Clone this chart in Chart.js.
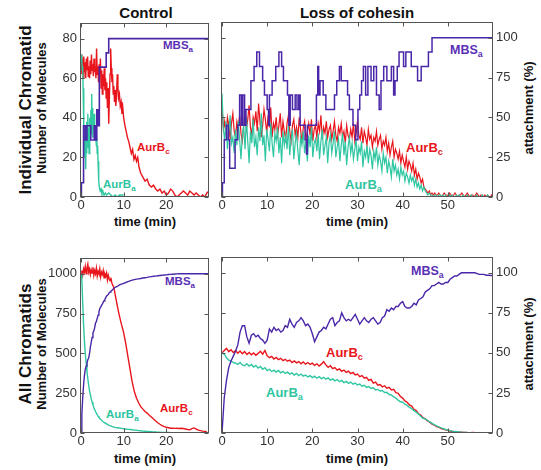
<!DOCTYPE html>
<html>
<head>
<meta charset="utf-8">
<script src="https://cdn.jsdelivr.net/npm/chart.js@4.4.1/dist/chart.umd.min.js"></script>
<style>
  body { margin: 0; width: 541px; height: 470px; position: relative; overflow: hidden; background: #fff;
         font-family: "Liberation Sans", Arial, sans-serif; }
  canvas { position: absolute; }
  .t { position: absolute; white-space: nowrap; font-weight: bold; line-height: 1; color: #111; }
  .c { transform: translate(-50%, -50%); }
  .r { transform: translate(-50%, -50%) rotate(-90deg); }
  .lab { position: absolute; white-space: nowrap; font-weight: bold; line-height: 1; }
  .lab sub { font-size: 70%; vertical-align: -3px; line-height: 0; }
</style>
</head>
<body>
<div class="t c" style="left:146px;top:12px;font-size:15px">Control</div>
<div class="t c" style="left:357px;top:12px;font-size:15px">Loss of cohesin</div>
<div class="t r" style="left:25px;top:110px;font-size:17px">Individual Chromatid</div>
<div class="t r" style="left:41px;top:108px;font-size:13px">Number of Molecules</div>
<div class="t r" style="left:25px;top:344px;font-size:17px">All Chromatids</div>
<div class="t r" style="left:41px;top:344px;font-size:13px">Number of Molecules</div>
<div class="t r" style="left:528px;top:108px;font-size:13px">attachment (%)</div>
<div class="t r" style="left:528px;top:344px;font-size:13px">attachment (%)</div>
<div class="t c" style="left:145px;top:221px;font-size:13px">time (min)</div>
<div class="t c" style="left:357px;top:221px;font-size:13px">time (min)</div>
<div class="t c" style="left:145px;top:458px;font-size:13px">time (min)</div>
<div class="t c" style="left:357px;top:458px;font-size:13px">time (min)</div>

<div class="lab" style="left:163px;top:40px;font-size:11.5px;color:#5a30b4">MBS<sub>a</sub></div>
<div class="lab" style="left:137px;top:142px;font-size:11.5px;color:#e8161c">AurB<sub>c</sub></div>
<div class="lab" style="left:103px;top:179px;font-size:11.5px;color:#2fc4a0">AurB<sub>a</sub></div>
<div class="lab" style="left:450px;top:44px;font-size:12.5px;color:#5a30b4">MBS<sub>a</sub></div>
<div class="lab" style="left:406px;top:141px;font-size:13px;color:#e8161c">AurB<sub>c</sub></div>
<div class="lab" style="left:345px;top:178px;font-size:13px;color:#2fc4a0">AurB<sub>a</sub></div>
<div class="lab" style="left:165px;top:276px;font-size:11.5px;color:#5a30b4">MBS<sub>a</sub></div>
<div class="lab" style="left:106px;top:409px;font-size:11.5px;color:#2fc4a0">AurB<sub>a</sub></div>
<div class="lab" style="left:160px;top:403px;font-size:11.5px;color:#e8161c">AurB<sub>c</sub></div>
<div class="lab" style="left:411px;top:265px;font-size:12.5px;color:#5a30b4">MBS<sub>a</sub></div>
<div class="lab" style="left:326px;top:346px;font-size:13px;color:#e8161c">AurB<sub>c</sub></div>
<div class="lab" style="left:266px;top:386px;font-size:13px;color:#2fc4a0">AurB<sub>a</sub></div>

<script>
// ticks
const ctrlTicksX = [0, 10, 20];
const lossTicksX = [0, 10, 20, 30, 40, 50];
const indTicksY = [0, 20, 40, 60, 80];
const allTicksY = [0, 250, 500, 750, 1000];
const pctTicks = [0, 25, 50, 75, 100];

// Control, individual chromatid: [time, value]
const ctrlIndMBSa = [[0,0],[0.1,9],[0.6,45],[1.0,36],[1.4,45],[2.3,36],[3.1,45],[3.4,36],[3.7,55],[4.0,45],[4.3,82],[5.9,91],[6.5,100],[30,100]];
const ctrlIndAurBc = [[0,72],[0.2,62],[0.35,70],[0.5,60],[0.65,71],[0.8,63],[0.95,68],[1.1,60],[1.25,70],[1.4,64],[1.55,71],[1.7,61],[1.85,66],[2.0,60],[2.15,69],[2.3,62],[2.45,72],[2.6,64],[2.75,67],[2.9,61],[3.05,70],[3.2,63],[3.35,66],[3.5,60],[3.65,75],[3.8,62],[3.95,66],[4.1,58],[4.25,67],[4.4,62],[4.55,70],[4.7,55],[4.85,64],[5.0,52],[5.15,62],[5.3,56],[5.45,65],[5.6,54],[5.75,60],[5.9,50],[6.05,58],[6.2,45],[6.35,55],[6.5,37],[6.65,50],[6.8,62],[6.95,75],[7.1,65],[7.25,58],[7.4,62],[7.55,52],[7.7,56],[7.85,48],[8.0,54],[8.15,46],[8.3,50],[8.5,62],[8.65,56],[8.8,50],[9.0,52],[9.2,46],[9.4,48],[9.6,42],[9.8,45],[10.0,40],[10.3,36],[10.6,33],[10.9,30],[11.2,28],[11.5,25],[11.8,22],[12.1,24],[12.4,19],[12.7,21],[13.0,18],[13.3,20],[13.6,15],[14.0,12],[14.5,10],[15.0,8],[15.5,9],[16.0,6],[16.5,5],[17.0,6],[17.5,4],[18.0,3],[18.5,4],[19.0,2],[19.5,3],[20.0,1],[20.5,2],[21.0,4],[21.5,3],[22.0,1],[22.5,0],[23.0,1],[23.5,2],[24.0,3],[24.5,2],[25.0,1],[25.5,3],[26.0,2],[26.5,1],[27.0,2],[27.5,1],[28.0,0],[28.5,1],[29.0,0],[29.5,2],[30.0,3]];
const ctrlIndAurBa = [[0,72],[0.1,68],[0.2,71],[0.3,64],[0.4,66],[0.5,55],[0.6,45],[0.7,35],[0.8,28],[0.9,20],[1.0,30],[1.1,14],[1.2,28],[1.3,22],[1.4,38],[1.5,30],[1.6,42],[1.7,25],[1.8,35],[1.9,22],[2.0,40],[2.1,28],[2.2,36],[2.3,44],[2.4,32],[2.5,52],[2.6,38],[2.7,45],[2.8,30],[2.9,40],[3.0,34],[3.1,42],[3.2,30],[3.3,36],[3.4,28],[3.5,33],[3.6,26],[3.7,30],[3.8,22],[3.9,26],[4.0,18],[4.1,12],[4.2,8],[4.3,5],[4.5,3],[4.7,4],[4.9,2],[5.1,3],[5.4,1],[5.7,2],[6.0,1],[6.5,2],[7.0,1],[7.5,0],[8.0,1],[8.5,0],[9.0,1],[10.0,1]];

// Loss of cohesin, individual chromatid
const lossIndMBSa = [[0,0],[0.1,9],[0.5,36],[1.0,45],[1.4,36],[1.7,18],[2.9,36],[3.5,45],[3.9,64],[4.3,45],[4.6,64],[5.0,45],[5.3,55],[6.4,73],[7.1,82],[7.7,91],[8.3,82],[9.0,73],[9.4,64],[10.0,55],[10.3,45],[10.5,64],[11.1,73],[11.9,82],[12.6,91],[13.2,82],[13.6,73],[14.5,64],[14.8,45],[15.1,64],[15.6,55],[16.2,64],[16.6,55],[17.0,64],[17.3,45],[18.4,36],[18.7,27],[18.9,45],[20.9,64],[21.2,82],[21.4,64],[21.7,73],[22.4,64],[23.0,55],[24.9,64],[25.4,73],[26.0,82],[26.4,73],[27.8,64],[28.2,55],[29.0,45],[29.6,36],[30.1,55],[30.5,64],[30.9,73],[31.3,82],[31.8,64],[32.3,82],[33.0,73],[33.6,82],[34.2,64],[34.8,55],[35.2,73],[35.8,82],[36.5,73],[37.5,82],[38.0,64],[38.3,73],[38.8,82],[39.2,91],[40.2,82],[40.7,91],[41.9,82],[43.3,73],[44.1,82],[45.7,91],[46.5,100],[60,100]];
const lossIndDt = 0.3;
const lossIndAurBc = [
  45,34,38,31,40,36,29,37,42,33, 30,38,35,41,32,28,36,44,34,39,
  46,35,31,40,37,43,33,47,38,30, 36,44,39,32,41,35,45,30,37,34,
  40,31,36,42,30,38,33,29,37,41, 33,28,36,39,31,35,30,40,34,27,
  35,38,29,33,37,31,39,28,34,36, 30,37,33,41,29,35,32,38,30,34,
  36,29,33,38,31,28,35,32,37,30, 33,27,36,31,29,34,30,37,28,32,
  38,31,29,35,27,33,30,26,34,29, 31,25,30,28,33,26,29,31,24,28,
  26,30,23,27,21,25,28,20,24,22, 19,23,17,21,18,15,20,14,18,16,
  13,17,11,14,9,12,10,7,9,5, 4,3,2,3,1,2,1,2,1,1,
  2,1,0,1,2,1,1,0,2,1, 0,1,2,1,0,1,1,2,1,0,
  1,2,1,0,1,1,0,1,2,1, 0,1,1,0,1,0,1,0,0,1, 0];
const lossIndAurBa = [
  52,35,28,38,24,33,41,27,30,22, 34,26,38,29,19,31,36,24,40,28,
  17,33,27,39,25,30,21,35,28,42, 26,31,18,34,29,23,37,27,20,32,
  28,35,22,30,17,33,26,31,24,36, 21,29,34,19,27,32,23,16,30,26,
  33,22,28,18,31,25,35,20,27,29, 23,32,19,28,34,21,26,30,17,27,
  31,22,27,33,20,25,29,18,26,32, 21,28,16,25,30,22,27,19,24,29,
  18,25,22,28,15,23,20,26,17,24, 21,14,23,19,25,16,21,18,13,22,
  17,20,12,18,15,10,19,13,16,11, 14,9,15,11,13,8,12,10,7,11,
  8,10,6,9,5,7,4,6,3,5, 3,2,1,2,1,1,0,1,1,0,
  1,1,0,1,0,1,0,0,1,0, 1,0,0,1,0,1,0,0,1,0,
  0,1,0,0,1,0,0,0,1,0, 0,0,1,0,0,0,1,0,0,0, 0];

// Control, all chromatids (times 0..8 every 0.2, then every 0.5 to 30)
const ctrlAllTime = [0,0.2,0.4,0.6,0.8,1,1.2,1.4,1.6,1.8,2,2.2,2.4,2.6,2.8,3,3.2,3.4,3.6,3.8,4,4.2,4.4,4.6,4.8,5,5.2,5.4,5.6,5.8,6,6.2,6.4,6.6,6.8,7,7.2,7.4,7.6,7.8,8,
  8.5,9,9.5,10,10.5,11,11.5,12,12.5,13,13.5,14,14.5,15,15.5,16,16.5,17,17.5,18,18.5,19,19.5,20,20.5,21,21.5,22,22.5,23,23.5,24,24.5,25,25.5,26,26.5,27,27.5,28,28.5,29,29.5,30];
const ctrlAllMBSa = [0,12,22,30,36,40,42,44,46,47,50,54,57,60,63,64,66,69,70,72,74,76,78,79,80,81,82,83,84,85,86,86.5,87,88,88.5,89,89.5,90,90.5,91,91.5,
  92,93,93.5,94,94.5,95,95.5,96,96.3,96.6,96.8,97,97.3,97.5,97.7,98,98.2,98.4,98.5,98.7,98.9,99,99.2,99.3,99.5,99.6,99.7,99.8,99.9,100,100,100,100,100,100,100,100,100,100,100,100,100,100,100];
const ctrlAllAurBc = [1000,1020,990,1030,1010,1045,1000,1035,1060,1010,1030,995,1025,1005,1040,990,1020,1000,1035,985,1015,1000,1030,980,1010,995,1020,975,1000,985,1005,960,990,970,955,975,945,930,920,900,870,
  800,735,680,630,560,480,400,320,260,220,190,165,150,135,125,112,100,88,75,64,55,47,40,36,33,30,30,29,30,28,30,28,25,22,20,28,32,25,18,15,12,10,8];
const ctrlAllAurBa = [1000,960,820,680,580,500,440,385,340,300,265,240,215,195,178,160,148,135,125,115,106,98,92,86,80,75,71,67,63,60,57,54,51,48,46,44,42,40,38,36,35,
  33,31,29,27,25,23,22,20,18,17,15,14,12,11,10,9,8,7,6,5,5,4,4,3,3,2,2,2,1,1,1,1,1,1,0,0,0,0,0,0,0,0,0,0];

// Loss of cohesin, all chromatids (every 0.5 min)
const lossAllDt = 0.5;
const lossAllMBSa = [0,22,33,41,45,48,51,55,63,67, 67,60,56,61,62,60,61,59,58,56, 58,65,63,66,64,65,63,64,67,66, 71,68,66,69,70,72,70,67,68,66, 62,57,60,63,64,66,65,68,71,72, 67,69,70,75,72,70,71,70,72,74, 71,68,70,72,70,69,71,72,70,68, 69,72,73,77,76,78,77,79,79,81, 82,79,78,78,79,81,80,83,84,85, 88,89,90,92,92,93,94,93,93,94, 94,96,97,98,98,99,100,100,100,100, 100,100,100,99.5,99,99,99,98.5,98.5,98.3,98.3];
const lossAllAurBc = [500,515,528,508,520,502,515,498,512,495, 508,490,503,488,500,485,497,510,492,515, 482,470,478,462,472,458,466,452,460,448, 455,440,450,438,446,432,444,430,440,428, 436,422,432,418,430,445,425,410,420,402, 408,392,400,385,393,378,386,370,378,362, 368,352,358,342,348,328,335,312,318,298, 302,288,295,280,285,268,272,252,248,228, 218,200,192,175,168,148,140,120,112,96, 88,76,68,56,50,40,36,28,25,20, 17,12,10,8,7,5,5,4,3,2, 2,3,2,1,1,2,2,1,1,1,1];
const lossAllAurBa = [500,492,470,455,448,440,436,428,440,425, 420,432,418,428,412,422,405,415,398,408, 390,398,384,392,380,390,376,385,372,380, 368,376,362,372,358,368,355,362,350,358, 346,355,342,352,340,348,336,344,330,338, 326,334,320,328,315,322,310,318,305,312, 300,306,292,298,285,290,278,282,268,272, 262,265,252,254,240,238,225,218,205,195, 192,180,172,160,152,140,130,118,105,92, 88,78,70,60,52,45,38,32,27,22, 18,15,12,10,8,6,5,4,3,2, 2,1,1,1,0,1,0,0,0,0,0];

const PURPLE = '#4a27a8', RED = '#e8161c', TEAL = '#2fc6a2';

const pairs = arr => arr.map(([x, y]) => ({ x, y }));
const even = (vals, dt) => vals.map((y, i) => ({ x: i * dt, y }));
const onTimes = (vals, t) => vals.map((y, i) => ({ x: t[i], y }));

// draws the axes box with inward ticks
const frame = {
  id: 'frame',
  afterDatasetsDraw(chart) {
    const { ctx, chartArea: a, scales } = chart;
    const L = Math.round(a.left) - 0.5, R = Math.round(a.right) - 0.5;
    const T = Math.round(a.top) + 0.5, B = Math.round(a.bottom) - 0.5;
    ctx.save();
    ctx.strokeStyle = '#555';
    ctx.lineWidth = 1;
    ctx.strokeRect(L, T, R - L, B - T);
    ctx.beginPath();
    scales.x.ticks.forEach(t => {
      const p = Math.round(scales.x.getPixelForValue(t.value)) + 0.5;
      ctx.moveTo(p, B); ctx.lineTo(p, B - 4);
      ctx.moveTo(p, T); ctx.lineTo(p, T + 4);
    });
    scales.y.ticks.forEach(t => {
      const p = Math.round(scales.y.getPixelForValue(t.value)) + 0.5;
      ctx.moveTo(L, p); ctx.lineTo(L + 4, p);
    });
    scales.y2.ticks.forEach(t => {
      const p = Math.round(scales.y2.getPixelForValue(t.value)) + 0.5;
      ctx.moveTo(R, p); ctx.lineTo(R - 4, p);
    });
    ctx.stroke();
    ctx.restore();
  }
};

Chart.defaults.font.family = '"Liberation Sans", Arial, sans-serif';

function panel(box, xMax, xTicks, yMax, yTicks, showLeft, showRight, sets) {
  const cv = document.createElement('canvas');
  cv.width = box.R - box.L + 80;
  cv.height = box.B - box.T + 40;
  cv.style.left = (box.L - 40) + 'px';
  cv.style.top = (box.T - 10) + 'px';
  document.body.appendChild(cv);
  const tickFont = { size: 13 };
  const noGrid = { display: false, drawTicks: false };
  new Chart(cv, {
    type: 'line',
    data: {
      datasets: sets.map(s => ({
        data: s.data, yAxisID: s.axis, borderColor: s.color, borderWidth: s.width,
        stepped: !!s.stepped, pointRadius: 0, fill: false, tension: 0
      }))
    },
    options: {
      responsive: false,
      animation: false,
      events: [],
      layout: { padding: { top: 10, left: 0, right: 0, bottom: 0 } },
      plugins: { legend: { display: false }, tooltip: { enabled: false } },
      scales: {
        x: {
          type: 'linear', min: 0, max: xMax, grid: noGrid, border: { display: false },
          ticks: { font: tickFont, color: '#333', padding: 1, maxRotation: 0, callback: v => String(v) },
          afterBuildTicks: s => { s.ticks = xTicks.map(v => ({ value: v })); },
          afterFit: s => { s.height = 30; }
        },
        y: {
          position: 'left', min: 0, max: yMax, grid: noGrid, border: { display: false },
          ticks: { display: showLeft, font: tickFont, color: '#333', padding: 4, callback: v => String(v) },
          afterBuildTicks: s => { s.ticks = yTicks.map(v => ({ value: v })); },
          afterFit: s => { s.width = 40; }
        },
        y2: {
          position: 'right', min: 0, max: 110, grid: noGrid, border: { display: false },
          ticks: { display: showRight, font: tickFont, color: '#333', padding: 3, callback: v => String(v) },
          afterBuildTicks: s => { s.ticks = pctTicks.map(v => ({ value: v })); },
          afterFit: s => { s.width = 40; }
        }
      }
    },
    plugins: [frame]
  });
}

panel({ L: 81, T: 21, R: 209, B: 197 }, 30, ctrlTicksX, 88, indTicksY, true, false, [
  { data: pairs(ctrlIndMBSa), axis: 'y2', color: PURPLE, width: 1.6, stepped: true },
  { data: pairs(ctrlIndAurBa), axis: 'y', color: TEAL, width: 1.4 },
  { data: pairs(ctrlIndAurBc), axis: 'y', color: RED, width: 1.4 }
]);
panel({ L: 222, T: 21, R: 493, B: 197 }, 60, lossTicksX, 88, indTicksY, false, true, [
  { data: pairs(lossIndMBSa), axis: 'y2', color: PURPLE, width: 1.5, stepped: true },
  { data: even(lossIndAurBa, lossIndDt), axis: 'y', color: TEAL, width: 1.2 },
  { data: even(lossIndAurBc, lossIndDt), axis: 'y', color: RED, width: 1.2 }
]);
panel({ L: 81, T: 256, R: 209, B: 433 }, 30, ctrlTicksX, 1100, allTicksY, true, false, [
  { data: onTimes(ctrlAllMBSa, ctrlAllTime), axis: 'y2', color: PURPLE, width: 1.4 },
  { data: onTimes(ctrlAllAurBa, ctrlAllTime), axis: 'y', color: TEAL, width: 1.4 },
  { data: onTimes(ctrlAllAurBc, ctrlAllTime), axis: 'y', color: RED, width: 1.4 }
]);
panel({ L: 222, T: 256, R: 493, B: 433 }, 60, lossTicksX, 1100, allTicksY, false, true, [
  { data: even(lossAllMBSa, lossAllDt), axis: 'y2', color: PURPLE, width: 1.4 },
  { data: even(lossAllAurBa, lossAllDt), axis: 'y', color: TEAL, width: 1.4 },
  { data: even(lossAllAurBc, lossAllDt), axis: 'y', color: RED, width: 1.4 }
]);
</script>
</body>
</html>
